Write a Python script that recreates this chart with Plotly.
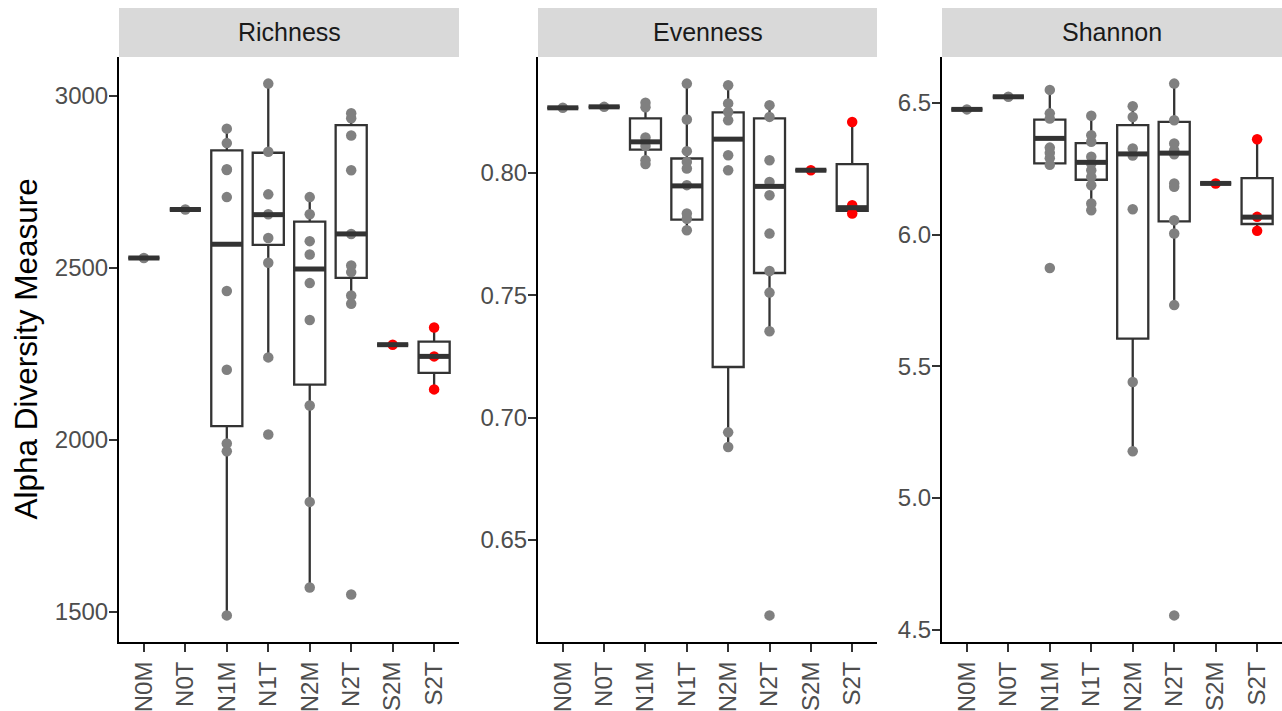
import plotly.graph_objects as go

# ---------------- data ----------------
categories = ["N0M", "N0T", "N1M", "N1T", "N2M", "N2T", "S2M", "S2T"]
panel_titles = ["Richness", "Evenness", "Shannon"]

# sample values per category (same order as categories)
richness_values = [
    [2529],
    [2670],
    [2905, 2863, 2787, 2785, 2706, 2433, 2204, 1990, 1967, 1490],
    [3036, 2838, 2714, 2656, 2587, 2515, 2240, 2016],
    [2706, 2656, 2578, 2539, 2456, 2349, 2100, 1820, 1571],
    [2950, 2935, 2885, 2784, 2599, 2507, 2488, 2420, 2396, 1551],
    [2277],
    [2327, 2243, 2147],
]
evenness_values = [
    [0.8266],
    [0.8270],
    [0.8287, 0.8268, 0.8145, 0.8127, 0.8110, 0.8052, 0.8036],
    [0.8365, 0.8218, 0.8089, 0.8045, 0.8018, 0.7950, 0.7834, 0.7813, 0.7766],
    [0.8358, 0.8284, 0.8249, 0.8215, 0.8072, 0.8011, 0.6940, 0.6880],
    [0.8277, 0.8229, 0.8052, 0.7963, 0.7909, 0.7752, 0.7599, 0.7511, 0.7353, 0.6192],
    [0.8011],
    [0.8208, 0.7868, 0.7834],
]
shannon_values = [
    [6.475],
    [6.523],
    [6.549, 6.460, 6.440, 6.330, 6.310, 6.290, 6.265, 5.873],
    [6.451, 6.377, 6.352, 6.295, 6.270, 6.244, 6.219, 6.187, 6.118, 6.092],
    [6.487, 6.446, 6.327, 6.300, 6.096, 5.440, 5.177],
    [6.573, 6.434, 6.346, 6.320, 6.305, 6.194, 6.181, 6.054, 6.004, 5.732, 4.554],
    [6.194],
    [6.362, 6.067, 6.014],
]

# box statistics
richness_q1 = [2529, 2670, 2040, 2567, 2161, 2471, 2277, 2195]
richness_median = [2529, 2670, 2569, 2655, 2497, 2599, 2277, 2243]
richness_q3 = [2529, 2670, 2842, 2835, 2635, 2915, 2277, 2286]
richness_low = [2529, 2670, 1490, 2240, 1571, 2396, 2277, 2147]
richness_high = [2529, 2670, 2905, 3036, 2706, 2950, 2277, 2327]

evenness_q1 = [0.8266, 0.8270, 0.8095, 0.7809, 0.7207, 0.7591, 0.8011, 0.7845]
evenness_median = [0.8266, 0.8270, 0.8127, 0.7947, 0.8138, 0.7945, 0.8011, 0.7858]
evenness_q3 = [0.8266, 0.8270, 0.8223, 0.8059, 0.8247, 0.8223, 0.8011, 0.8036]
evenness_low = [0.8266, 0.8270, 0.8036, 0.7766, 0.6880, 0.7353, 0.8011, 0.7834]
evenness_high = [0.8266, 0.8270, 0.8287, 0.8365, 0.8355, 0.8277, 0.8011, 0.8208]

shannon_q1 = [6.475, 6.523, 6.270, 6.208, 5.605, 6.050, 6.194, 6.040]
shannon_median = [6.475, 6.523, 6.365, 6.274, 6.306, 6.309, 6.194, 6.066]
shannon_q3 = [6.475, 6.523, 6.436, 6.347, 6.415, 6.428, 6.194, 6.214]
shannon_low = [6.475, 6.523, 6.263, 6.092, 5.177, 5.732, 6.194, 6.014]
shannon_high = [6.475, 6.523, 6.549, 6.451, 6.487, 6.573, 6.194, 6.362]

richness_ticks = [1500, 2000, 2500, 3000]
evenness_ticks = [0.65, 0.70, 0.75, 0.80]
shannon_ticks = [4.5, 5.0, 5.5, 6.0, 6.5]

y_title = "Alpha Diversity Measure"

# ---------------- layout constants ----------------
W, H = 1282, 711
panel_px = [(119, 459), (538, 877), (942, 1282)]
plot_top, plot_bot, strip_top = 57, 642, 8
ydom = [(H - plot_bot) / H, (H - plot_top) / H]

GRAY = "#808080"
RED = "#FF0000"
LINE = "#333333"
FONT = "Liberation Sans, Arial, sans-serif"

panels = [
    (richness_values, richness_q1, richness_median, richness_q3, richness_low, richness_high, richness_ticks, ".0f"),
    (evenness_values, evenness_q1, evenness_median, evenness_q3, evenness_low, evenness_high, evenness_ticks, ".2f"),
    (shannon_values, shannon_q1, shannon_median, shannon_q3, shannon_low, shannon_high, shannon_ticks, ".1f"),
]

fig = go.Figure()
layout = {}
shapes = []
annotations = []
xpos = list(range(len(categories)))
BOXW = 0.75

for p, (vals, q1, med, q3, lo, hi, ticks, fmt) in enumerate(panels):
    xa = "x" if p == 0 else f"x{p + 1}"
    ya = "y" if p == 0 else f"y{p + 1}"

    # points
    for i, cat in enumerate(categories):
        color = RED if cat.startswith("S") else GRAY
        fig.add_trace(go.Scatter(
            x=[i] * len(vals[i]), y=vals[i], mode="markers",
            marker=dict(size=10.5, color=color, line=dict(width=0)),
            xaxis=xa, yaxis=ya, showlegend=False, hoverinfo="skip"))

    # boxes
    fig.add_trace(go.Box(
        x=xpos, q1=q1, median=med, q3=q3, lowerfence=lo, upperfence=hi,
        width=BOXW, whiskerwidth=0, boxpoints=False,
        fillcolor="rgba(0,0,0,0)", line=dict(color=LINE, width=2.3),
        xaxis=xa, yaxis=ya, showlegend=False, hoverinfo="skip"))

    # thick median lines
    mx, my = [], []
    for i, m in enumerate(med):
        mx += [i - BOXW / 2, i + BOXW / 2, None]
        my += [m, m, None]
    fig.add_trace(go.Scatter(
        x=mx, y=my, mode="lines", line=dict(color=LINE, width=5),
        xaxis=xa, yaxis=ya, showlegend=False, hoverinfo="skip"))

    allv = [v for g in vals for v in g]
    vmin, vmax = min(allv), max(allv)
    span = vmax - vmin
    yr = [vmin - 0.05 * span, vmax + 0.05 * span]

    x0, x1 = panel_px[p]
    xdom = [x0 / W, x1 / W]
    layout["xaxis" if p == 0 else f"xaxis{p + 1}"] = dict(
        domain=xdom, anchor=ya, range=[-0.6, len(categories) - 0.4],
        tickmode="array", tickvals=xpos, ticktext=categories, tickangle=-90,
        ticks="outside", ticklen=8, tickwidth=2, tickcolor=LINE,
        showline=True, linecolor="black", linewidth=2,
        showgrid=False, zeroline=False, automargin=False,
        tickfont=dict(family=FONT, size=24, color="#4D4D4D"))
    layout["yaxis" if p == 0 else f"yaxis{p + 1}"] = dict(
        domain=ydom, anchor=xa, range=yr,
        tickmode="array", tickvals=ticks, tickformat=fmt,
        ticks="outside", ticklen=8, tickwidth=2, tickcolor=LINE,
        showline=True, linecolor="black", linewidth=2,
        showgrid=False, zeroline=False, automargin=False,
        ticklabelstandoff=-4,
        tickfont=dict(family=FONT, size=24, color="#4D4D4D"))

    # strip
    shapes.append(dict(type="rect", xref="paper", yref="paper",
                       x0=xdom[0], x1=xdom[1],
                       y0=(H - plot_top) / H, y1=(H - strip_top) / H,
                       fillcolor="#D9D9D9", line=dict(width=0), layer="below"))
    annotations.append(dict(text=panel_titles[p], xref="paper", yref="paper",
                            x=(xdom[0] + xdom[1]) / 2,
                            y=(H - (plot_top + strip_top) / 2) / H,
                            xanchor="center", yanchor="middle", showarrow=False,
                            font=dict(family=FONT, size=25, color="#1A1A1A")))

annotations.append(dict(text=y_title, xref="paper", yref="paper",
                        x=25 / W, y=(H - (plot_top + plot_bot) / 2) / H,
                        xanchor="center", yanchor="middle", textangle=-90,
                        showarrow=False,
                        font=dict(family=FONT, size=31.5, color="black")))

fig.update_layout(
    width=W, height=H, margin=dict(l=0, r=0, t=0, b=0),
    paper_bgcolor="white", plot_bgcolor="white",
    shapes=shapes, annotations=annotations, showlegend=False,
    boxmode="overlay", **layout)

fig.write_html("out.html")
